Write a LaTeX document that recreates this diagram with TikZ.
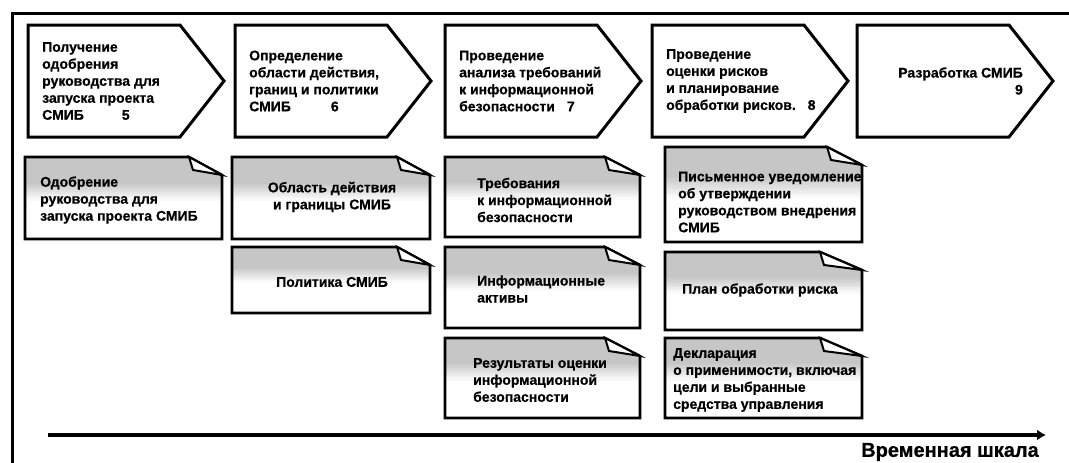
\documentclass[tikz,border=0pt]{standalone}
\usepackage{fontspec}
\setmainfont{Liberation Sans}[BoldFeatures={FakeBold=0.6}]
\usetikzlibrary{arrows.meta}
\tikzset{
  chev/.style={draw, line width=3pt, line join=miter},
  docbox/.style={draw, line width=2.6pt, line join=miter},
  foldline/.style={draw, line width=2pt, line join=miter, fill=white},
  btxt/.style={font=\bfseries\fontsize{14}{17}\selectfont, inner sep=0pt},
  frameline/.style={line width=3pt},
}
% chevron: name, left x, text
\newcommand\chevbox[3]{%
  \draw[chev] (#2,25) -- (#2+152,25) -- (#2+196,81) -- (#2+152,137) -- (#2,137) -- cycle;
  \node[btxt, anchor=west, align=left] (#1) at (#2+14,81) {#3};
}
% document shape: L, T, R, B, fold start
\newcommand\docbox[5]{%
  \begin{scope}
    \clip (#1,#2) -- (#5,#2) -- (#3,#2+18) -- (#3,#4) -- (#1,#4) -- cycle;
    \fill[white] (#1,#2) rectangle (#3,#4);
    \fill[gray!45] (#1,#2) rectangle (#3,{#2+0.33*(#4-#2)});
    \foreach \k in {0,...,7}{
      \pgfmathsetmacro\gv{40-5*\k}
      \fill[gray!\gv] (#1,{#2+(0.33+0.025*\k)*(#4-#2)}) rectangle (#3,{#2+(0.33+0.025*(\k+1))*(#4-#2)+0.5});
    }
  \end{scope}
  \draw[docbox] (#1,#2) -- (#5,#2) -- (#3,#2+18) -- (#3,#4) -- (#1,#4) -- cycle;
  \draw[foldline] (#5,#2) -- (#5+4,#2+13) -- (#3,#2+18) -- cycle;
}
\begin{document}
\begin{tikzpicture}[x=1pt,y=-1pt]
\useasboundingbox (0,0) rectangle (1069,463);
\fill[white] (0,0) rectangle (1069,463);
% frame
\coordinate (fb) at (12,463);
\coordinate (fc) at (12,13);
\coordinate (fr) at (1069,13);
\draw[frameline] (fb) -- (fc) -- (fr);

% chevrons
\chevbox{s1}{28}{Получение\\одобрения\\руководства для\\запуска проекта\\СМИБ\hspace{38pt}5}
\chevbox{s2}{235}{Определение\\области действия,\\границ и политики\\СМИБ\hspace{40pt}6}
\chevbox{s3}{445}{Проведение\\анализа требований\\к информационной\\безопасности\hspace{12pt}7}
\chevbox{s4}{652}{Проведение\\оценки рисков\\и планирование\\обработки рисков.\hspace{12pt}8}
\draw[chev] (857,25) -- (1009,25) -- (1053,81) -- (1009,137) -- (857,137) -- cycle;
\node[btxt, anchor=east, align=right] (s5) at (1023,81) {Разработка СМИБ\\9};

% documents column 1
\docbox{25}{157}{222}{239}{189}
\node[btxt, anchor=west, align=left] (d1) at (40,200) {Одобрение\\руководства для\\запуска проекта СМИБ};
% column 2
\docbox{232}{157}{430}{239}{397}
\node[btxt, align=center] (d2) at (332,197) {Область действия\\и границы СМИБ};
\docbox{232}{247}{430}{313}{397}
\node[btxt, align=center] (d3) at (332,282) {Политика СМИБ};
% column 3
\docbox{445}{157}{640}{237}{605}
\node[btxt, anchor=west, align=left] (d4) at (477,200) {Требования\\к информационной\\безопасности};
\docbox{445}{247}{640}{328}{605}
\node[btxt, anchor=west, align=left] (d5) at (477,289) {Информационные\\активы};
\docbox{445}{338}{640}{418}{605}
\node[btxt, anchor=west, align=left] (d6) at (473,380) {Результаты оценки\\информационной\\безопасности};
% column 4
\docbox{665}{147}{862}{242}{827}
\node[btxt, anchor=west, align=left] (d7) at (678,202) {Письменное уведомление\\об утверждении\\руководством внедрения\\СМИБ};
\docbox{665}{252}{862}{330}{820}
\node[btxt, anchor=west, align=left] (d8) at (682,290) {План обработки риска};
\docbox{665}{338}{862}{418}{820}
\node[btxt, anchor=west, align=left] (d9) at (673,380) {Декларация\\о применимости, включая\\цели и выбранные\\средства управления};

% timeline
\coordinate (t0) at (48,435);
\coordinate (t1) at (1046,435);
\draw[line width=4.5pt, -{Latex[length=9pt,width=11pt]}] (t0) -- (t1);
\node[font=\bfseries\fontsize{20}{21}\selectfont, anchor=east, inner sep=0pt] (tl) at (1039,452) {Временная шкала};
\end{tikzpicture}
\end{document}
